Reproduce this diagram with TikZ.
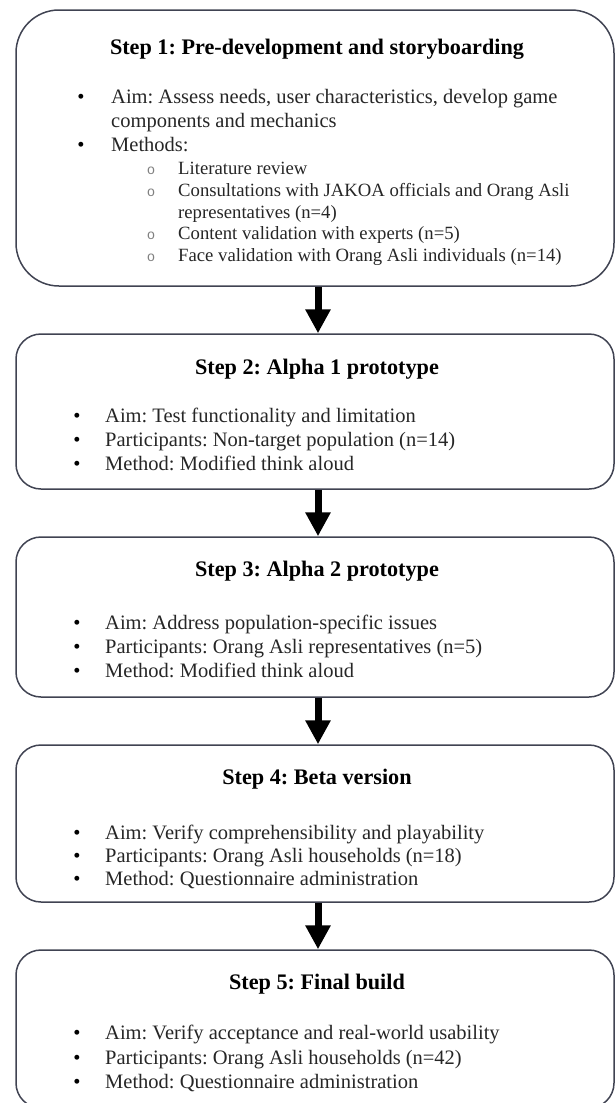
\documentclass[tikz,border=0pt]{standalone}
\usepackage{fontspec}
\setmainfont{Liberation Serif}
\newfontfamily\ringfont{Liberation Mono}
\usepackage{xcolor}
\usepackage{tikz}
\usetikzlibrary{arrows.meta}
\frenchspacing

\definecolor{boxline}{HTML}{404352}
\definecolor{bodytext}{HTML}{262626}

\tikzset{
  stepbox/.style={draw=boxline, line width=1.5pt, rounded corners=25pt, minimum width=598pt, inner sep=0pt},
  steptitle/.style={anchor=base, font=\fontsize{22.2}{24}\selectfont\bfseries},
  dot/.style={anchor=base, inner sep=0pt, font=\fontsize{20.5}{24}\selectfont},
  ring/.style={anchor=base, inner sep=0pt, text=gray, font=\ringfont\fontsize{14}{14}\selectfont},
  line/.style={anchor=base west, inner sep=0pt, text=bodytext, font=\fontsize{20.5}{24}\selectfont},
  subline/.style={line, font=\fontsize{18.7}{22}\selectfont},
  flowarrow/.style={line width=7pt, -{Triangle[length=24pt,width=24pt]}}
}

\begin{document}
\begin{tikzpicture}[x=1pt,y=-1pt]
        %FRAME
        \useasboundingbox (0,0) rectangle (615,1103);
        %BOXES
        \node[stepbox, rounded corners=43pt, minimum height=276pt] (s1) at (315,148) {};
        \node[stepbox, minimum height=155pt] (s2) at (315,411.5) {};
        \node[stepbox, minimum height=160pt] (s3) at (315,617) {};
        \node[stepbox, minimum height=157pt] (s4) at (315,823.5) {};
        \node[stepbox, minimum height=158pt] (s5) at (315,1029) {};
        %ARROWS
        \draw[flowarrow] ([xshift=3pt]s1.south) -- ([xshift=3pt]s2.north);
        \draw[flowarrow] ([xshift=3pt]s2.south) -- ([xshift=3pt]s3.north);
        \draw[flowarrow] ([xshift=3pt]s3.south) -- ([xshift=3pt]s4.north);
        \draw[flowarrow] ([xshift=3pt]s4.south) -- ([xshift=3pt]s5.north);
        %TITLES
        \node[steptitle] (t1) at (317,54) {Step 1: Pre-development and storyboarding};
        \node[steptitle] (t2) at (317,374) {Step 2: Alpha 1 prototype};
        \node[steptitle] (t3) at (317,576) {Step 3: Alpha 2 prototype};
        \node[steptitle] (t4) at (317,784) {Step 4: Beta version};
        \node[steptitle] (t5) at (317,989) {Step 5: Final build};
        %STEP 1
        \node[dot] (d1a) at (81,103) {\textbullet};
        \node[line] (l1a) at (111,103) {Aim: Assess needs, user characteristics, develop game};
        \node[line] (l1b) at (111,127) {components and mechanics};
        \node[dot] (d1b) at (81,151) {\textbullet};
        \node[line] (l1c) at (111,151) {Methods:};
        \node[ring] (r1a) at (151,174) {o};
        \node[subline] (l1d) at (178,174) {Literature review};
        \node[ring] (r1b) at (151,196) {o};
        \node[subline] (l1e) at (178,196) {Consultations with JAKOA officials and Orang Asli};
        \node[subline] (l1f) at (178,218) {representatives (n=4)};
        \node[ring] (r1c) at (151,239.5) {o};
        \node[subline] (l1g) at (178,239.5) {Content validation with experts (n=5)};
        \node[ring] (r1d) at (151,261) {o};
        \node[subline] (l1h) at (178,261) {Face validation with Orang Asli individuals (n=14)};
        %STEP 2
        \node[dot] (d2a) at (77,422) {\textbullet};
        \node[line] (l2a) at (105,422) {Aim: Test functionality and limitation};
        \node[dot] (d2b) at (77,446) {\textbullet};
        \node[line] (l2b) at (105,446) {Participants: Non-target population (n=14)};
        \node[dot] (d2c) at (77,470) {\textbullet};
        \node[line] (l2c) at (105,470) {Method: Modified think aloud};
        %STEP 3
        \node[dot] (d3a) at (77,629) {\textbullet};
        \node[line] (l3a) at (105,629) {Aim: Address population-specific issues};
        \node[dot] (d3b) at (77,653) {\textbullet};
        \node[line] (l3b) at (105,653) {Participants: Orang Asli representatives (n=5)};
        \node[dot] (d3c) at (77,677) {\textbullet};
        \node[line] (l3c) at (105,677) {Method: Modified think aloud};
        %STEP 4
        \node[dot] (d4a) at (77,839) {\textbullet};
        \node[line] (l4a) at (105,839) {Aim: Verify comprehensibility and playability};
        \node[dot] (d4b) at (77,862) {\textbullet};
        \node[line] (l4b) at (105,862) {Participants: Orang Asli households (n=18)};
        \node[dot] (d4c) at (77,885) {\textbullet};
        \node[line] (l4c) at (105,885) {Method: Questionnaire administration};
        %STEP 5
        \node[dot] (d5a) at (77,1039) {\textbullet};
        \node[line] (l5a) at (105,1039) {Aim: Verify acceptance and real-world usability};
        \node[dot] (d5b) at (77,1064) {\textbullet};
        \node[line] (l5b) at (105,1064) {Participants: Orang Asli households (n=42)};
        \node[dot] (d5c) at (77,1088) {\textbullet};
        \node[line] (l5c) at (105,1088) {Method: Questionnaire administration};
    \end{tikzpicture}
\end{document}
